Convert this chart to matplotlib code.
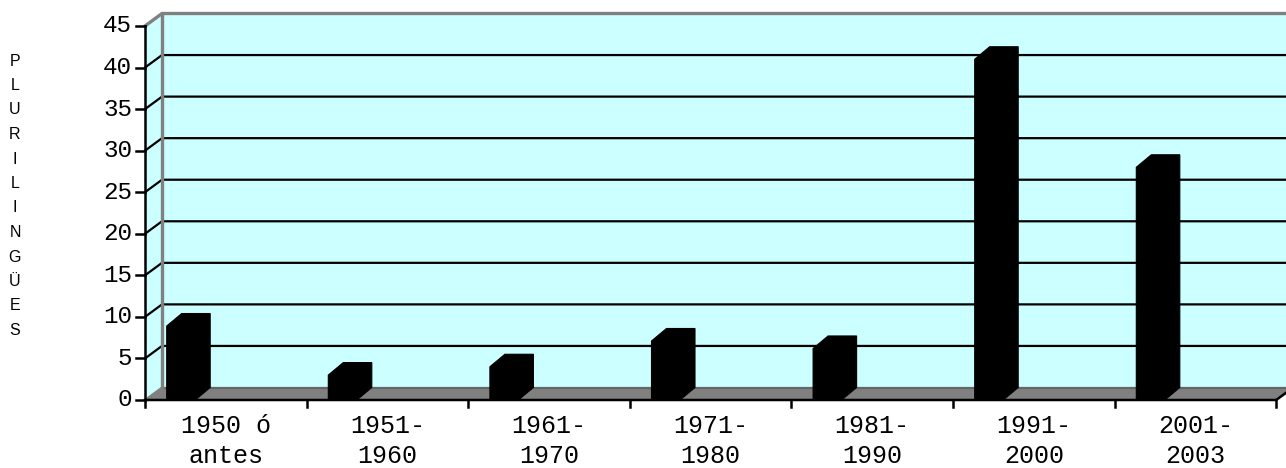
import matplotlib
matplotlib.use("Agg")
import matplotlib.pyplot as plt
from matplotlib.patches import Polygon

# ---- data -------------------------------------------------------------
categories = ["1950 ó\nantes", "1951-\n1960", "1961-\n1970", "1971-\n1980",
              "1981-\n1990", "1991-\n2000", "2001-\n2003"]
values = [8.9, 3.0, 4.0, 7.1, 6.2, 41.0, 28.0]
y_ticks = [0, 5, 10, 15, 20, 25, 30, 35, 40, 45]
y_title = "PLURILINGÜES"

# ---- geometry ---------------------------------------------------------
W, H = 1286, 468
X0, Y0 = 145.0, 400.0          # front-plane origin (pixels)
CAT = 161.6                    # pixels per category
UNIT = 374.0 / 45.0            # pixels per value unit
n = len(categories)
ymax = y_ticks[-1]

fig = plt.figure(figsize=(W / 100, H / 100), dpi=100)
ax = fig.add_axes([0, 0, 1, 1])
ax.axis("off")
ax.set_xlim(-X0 / CAT, (W - X0) / CAT)
ax.set_ylim((Y0 - H) / UNIT, Y0 / UNIT)


def px_x(px):
    return (px - X0) / CAT


def px_y(py):
    return (Y0 - py) / UNIT


DX = 17.0 / CAT                # depth offset of the walls
DY = 12.5 / UNIT
CYAN = "#CCFFFF"
GRAY = "#808080"
MONO = "Liberation Mono"

# walls and floor
ax.add_patch(Polygon([(DX, DY), (n + DX, DY), (n + DX, ymax + DY), (DX, ymax + DY)],
                     closed=True, fc=CYAN, ec="none", zorder=1))
ax.add_patch(Polygon([(0, 0), (DX, DY), (DX, ymax + DY), (0, ymax)],
                     closed=True, fc=CYAN, ec="none", zorder=1))
ax.add_patch(Polygon([(0, 0), (n, 0), (n + DX, DY), (DX, DY)],
                     closed=True, fc=GRAY, ec="none", zorder=2))
ax.plot([DX, n + DX], [DY, DY], color="#666666", lw=1.6, zorder=2.1,
        solid_capstyle="butt")

# gridlines on back and side walls
for v in y_ticks[1:-1]:
    ax.plot([0, DX, n + DX], [v, v + DY, v + DY], color="black", lw=1.6, zorder=3)

# wall edges
ax.plot([DX, DX], [DY, ymax + DY], color=GRAY, lw=2.4, zorder=3.5)
ax.plot([0, DX, n + DX], [ymax, ymax + DY, ymax + DY], color=GRAY, lw=2.4, zorder=3.5)
ax.plot([0, DX], [0, DY], color=GRAY, lw=1.5, zorder=3.5)

# 3-D columns
BOFF = 21.7 / CAT
BW = 28.5 / CAT
BDX = 15.0 / CAT
BDY = DY
for i, v in enumerate(values):
    x0 = i + BOFF
    x1 = x0 + BW
    ax.add_patch(Polygon([(x0, 0), (x1, 0), (x1 + BDX, BDY), (x1 + BDX, v + BDY),
                          (x0 + BDX, v + BDY), (x0, v)],
                         closed=True, fc="black", ec="black", lw=0.8, zorder=4))

# axes lines and ticks
ax.plot([0, 0], [0, ymax], color="black", lw=1.8, zorder=5)
ax.plot([0, n, n + DX], [0, 0, DY], color="black", lw=1.8, zorder=5)
for v in y_ticks:
    ax.plot([px_x(X0 - 9), 0], [v, v], color="black", lw=1.8, zorder=5)
    ax.text(px_x(X0 - 13), v, str(v), ha="right", va="center",
            family=MONO, fontsize=17.5, color="black")
for i in range(n + 1):
    ax.plot([i, i], [0, px_y(Y0 + 7)], color="black", lw=1.8, zorder=5)

# category labels
for i, lab in enumerate(categories):
    for j, line in enumerate(lab.split("\n")):
        ax.text(i + 0.5, px_y(433 + 30 * j), line, ha="center", va="baseline",
                family=MONO, fontsize=18, color="black")

# vertical axis title, one letter per line
for k, ch in enumerate(y_title):
    ax.text(px_x(15), px_y(61 + 24.5 * k), ch, ha="center", va="center",
            family="Liberation Sans", fontsize=11.5, color="black")

fig.savefig("out.png", dpi=100)
